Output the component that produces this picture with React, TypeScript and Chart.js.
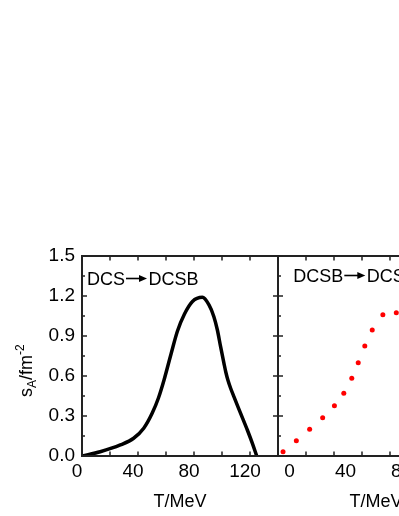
import React, { useEffect, useRef } from "react";
import { Chart, registerables } from "chart.js";
Chart.register(...registerables);

// ---- data ----
const leftT = [0, 13, 27.4, 36.9, 44.1, 50.1, 54.6, 58.6, 63.6, 68.2, 73.2, 78.9, 86, 90.7, 94.2, 96.7, 99.0, 101.4, 102.7, 104.2, 106.1, 108.5, 113.3, 118.1, 121.7, 124.8];
const leftS = [0, 0.032, 0.083, 0.133, 0.208, 0.32, 0.435, 0.57, 0.765, 0.937, 1.065, 1.159, 1.19, 1.133, 1.045, 0.945, 0.82, 0.695, 0.63, 0.57, 0.51, 0.445, 0.32, 0.195, 0.095, 0];

const rightT = [3.6, 13.1, 22.6, 31.9, 40.3, 47.0, 52.7, 57.3, 62.0, 67.3, 74.9, 84.5];
const rightS = [0.032, 0.115, 0.2, 0.287, 0.377, 0.47, 0.583, 0.7, 0.825, 0.945, 1.06, 1.075];

const yTickValues = [0, 0.3, 0.6, 0.9, 1.2, 1.5];
const xLabelValues = [0, 40, 80, 120];
const leftLabel = ["DCS", "DCSB"];
const rightLabel = ["DCSB", "DCS"];
const xTitle = "T/MeV";

const FONT = '"Liberation Sans", Arial, Helvetica, sans-serif';
const AXIS = "#222";

function drawFrame(chart: any, rightTicks: boolean) {
  const { ctx, chartArea: a } = chart;
  const x = chart.scales.x;
  const y = chart.scales.y;
  ctx.save();
  ctx.strokeStyle = AXIS;
  ctx.lineWidth = 2;
  ctx.strokeRect(a.left, a.top, a.right - a.left, a.bottom - a.top);
  ctx.lineWidth = 1.5;
  ctx.beginPath();
  for (let i = 0; i < yTickValues.length; i++) {
    const v = yTickValues[i];
    const p = y.getPixelForValue(v);
    ctx.moveTo(a.left, p);
    ctx.lineTo(a.left + 5, p);
    if (rightTicks) {
      ctx.moveTo(a.right, p);
      ctx.lineTo(a.right - 5, p);
    }
    if (i < yTickValues.length - 1) {
      const m = y.getPixelForValue((v + yTickValues[i + 1]) / 2);
      ctx.moveTo(a.left, m);
      ctx.lineTo(a.left + 3, m);
    }
  }
  for (const t of x.ticks) {
    const p = x.getPixelForValue(t.value);
    ctx.moveTo(p, a.bottom);
    ctx.lineTo(p, a.bottom - 4.5);
    ctx.moveTo(p, a.top);
    ctx.lineTo(p, a.top + 4.5);
  }
  ctx.stroke();
  ctx.restore();
}

// text, arrow symbol, text
function drawTransition(ctx: any, parts: string[], x: number, baseline: number) {
  ctx.save();
  ctx.fillStyle = "#000";
  ctx.strokeStyle = "#000";
  ctx.textBaseline = "alphabetic";
  ctx.textAlign = "left";
  ctx.font = `18px ${FONT}`;
  ctx.fillText(parts[0], x, baseline);
  let cx = x + ctx.measureText(parts[0]).width + 1;
  const cy = baseline - 6.3;
  ctx.lineWidth = 1.6;
  ctx.beginPath();
  ctx.moveTo(cx, cy);
  ctx.lineTo(cx + 14, cy);
  ctx.stroke();
  ctx.beginPath();
  ctx.moveTo(cx + 13, cy - 3.6);
  ctx.lineTo(cx + 21, cy);
  ctx.lineTo(cx + 13, cy + 3.6);
  ctx.closePath();
  ctx.fill();
  cx += 22.5;
  ctx.fillText(parts[1], cx, baseline);
  ctx.restore();
}

const leftPlugin = {
  id: "leftDecor",
  afterDraw(chart: any) {
    drawFrame(chart, true);
    const { ctx } = chart;
    drawTransition(ctx, leftLabel, 87, 284.8);
    ctx.save();
    ctx.fillStyle = "#000";
    ctx.textBaseline = "alphabetic";
    ctx.textAlign = "left";
    ctx.translate(32, 397);
    ctx.rotate(-Math.PI / 2);
    let w = 0;
    ctx.font = `18px ${FONT}`;
    ctx.fillText("s", w, 0);
    w += ctx.measureText("s").width;
    ctx.font = `12px ${FONT}`;
    ctx.fillText("A", w, 4);
    w += ctx.measureText("A").width;
    ctx.font = `18px ${FONT}`;
    ctx.fillText("/fm", w, 0);
    w += ctx.measureText("/fm").width;
    ctx.font = `12px ${FONT}`;
    ctx.fillText("-2", w, -8);
    ctx.restore();
  },
};

const RIGHT_LEFT = 260;
const rightPlugin = {
  id: "rightDecor",
  afterDraw(chart: any) {
    drawFrame(chart, false);
    drawTransition(chart.ctx, rightLabel, 293.3 - RIGHT_LEFT, 281.8);
  },
};

function xScale(labelOffset: number) {
  return {
    type: "linear",
    min: 0,
    max: 140,
    grid: { display: false, drawTicks: false },
    border: { display: false },
    ticks: {
      stepSize: 20,
      autoSkip: false,
      maxRotation: 0,
      padding: 4,
      labelOffset,
      color: "#000",
      font: { family: FONT, size: 19 },
      callback: (v: number) => (xLabelValues.includes(v) ? String(v) : ""),
    },
    title: {
      display: true,
      text: xTitle,
      color: "#000",
      font: { family: FONT, size: 18 },
      padding: { top: 0, bottom: 3 },
    },
    afterFit: (s: any) => {
      s.height = 60;
    },
  };
}

function yScale(showLabels: boolean, width: number) {
  return {
    type: "linear",
    min: 0,
    max: 1.5,
    grid: { display: false, drawTicks: false },
    border: { display: false },
    afterBuildTicks: (s: any) => {
      s.ticks = yTickValues.map((v) => ({ value: v }));
    },
    ticks: {
      display: showLabels,
      padding: 7,
      color: "#000",
      font: { family: FONT, size: 19 },
      callback: (v: number) => Number(v).toFixed(1),
    },
    afterFit: (s: any) => {
      s.width = width;
    },
  };
}

function App() {
  const leftRef = useRef<HTMLCanvasElement>(null);
  const rightRef = useRef<HTMLCanvasElement>(null);

  useEffect(() => {
    const left = new Chart(leftRef.current as HTMLCanvasElement, {
      type: "line",
      data: {
        datasets: [
          {
            data: leftT.map((t, i) => ({ x: t, y: leftS[i] })),
            borderColor: "#000",
            borderWidth: 3.5,
            pointRadius: 0,
            cubicInterpolationMode: "monotone",
            fill: false,
          },
        ],
      },
      options: {
        animation: false,
        responsive: false,
        devicePixelRatio: 1,
        layout: { padding: { top: 256, right: 12, left: 0, bottom: 0 } },
        plugins: { legend: { display: false }, tooltip: { enabled: false } },
        scales: { x: xScale(-5), y: yScale(true, 82) },
      } as any,
      plugins: [leftPlugin],
    });

    const right = new Chart(rightRef.current as HTMLCanvasElement, {
      type: "scatter",
      data: {
        datasets: [
          {
            data: rightT.map((t, i) => ({ x: t, y: rightS[i] })),
            backgroundColor: "#ff0000",
            borderColor: "#ff0000",
            borderWidth: 0,
            pointRadius: 2.5,
            showLine: false,
          },
        ],
      },
      options: {
        animation: false,
        responsive: false,
        devicePixelRatio: 1,
        layout: { padding: { top: 256, right: 16, left: 0, bottom: 0 } },
        plugins: { legend: { display: false }, tooltip: { enabled: false } },
        scales: { x: xScale(11.5), y: yScale(false, 18) },
      } as any,
      plugins: [rightPlugin],
    });

    return () => {
      left.destroy();
      right.destroy();
    };
  }, []);

  return (
    <div
      style={{
        position: "fixed",
        left: 0,
        top: 0,
        width: 399,
        height: 516,
        overflow: "hidden",
        background: "#fff",
      }}
    >
      <canvas
        ref={leftRef}
        width={290}
        height={516}
        style={{ position: "absolute", left: 0, top: 0, width: 290, height: 516 }}
      />
      <canvas
        ref={rightRef}
        width={230}
        height={516}
        style={{ position: "absolute", left: RIGHT_LEFT, top: 0, width: 230, height: 516 }}
      />
    </div>
  );
}

export default App;
